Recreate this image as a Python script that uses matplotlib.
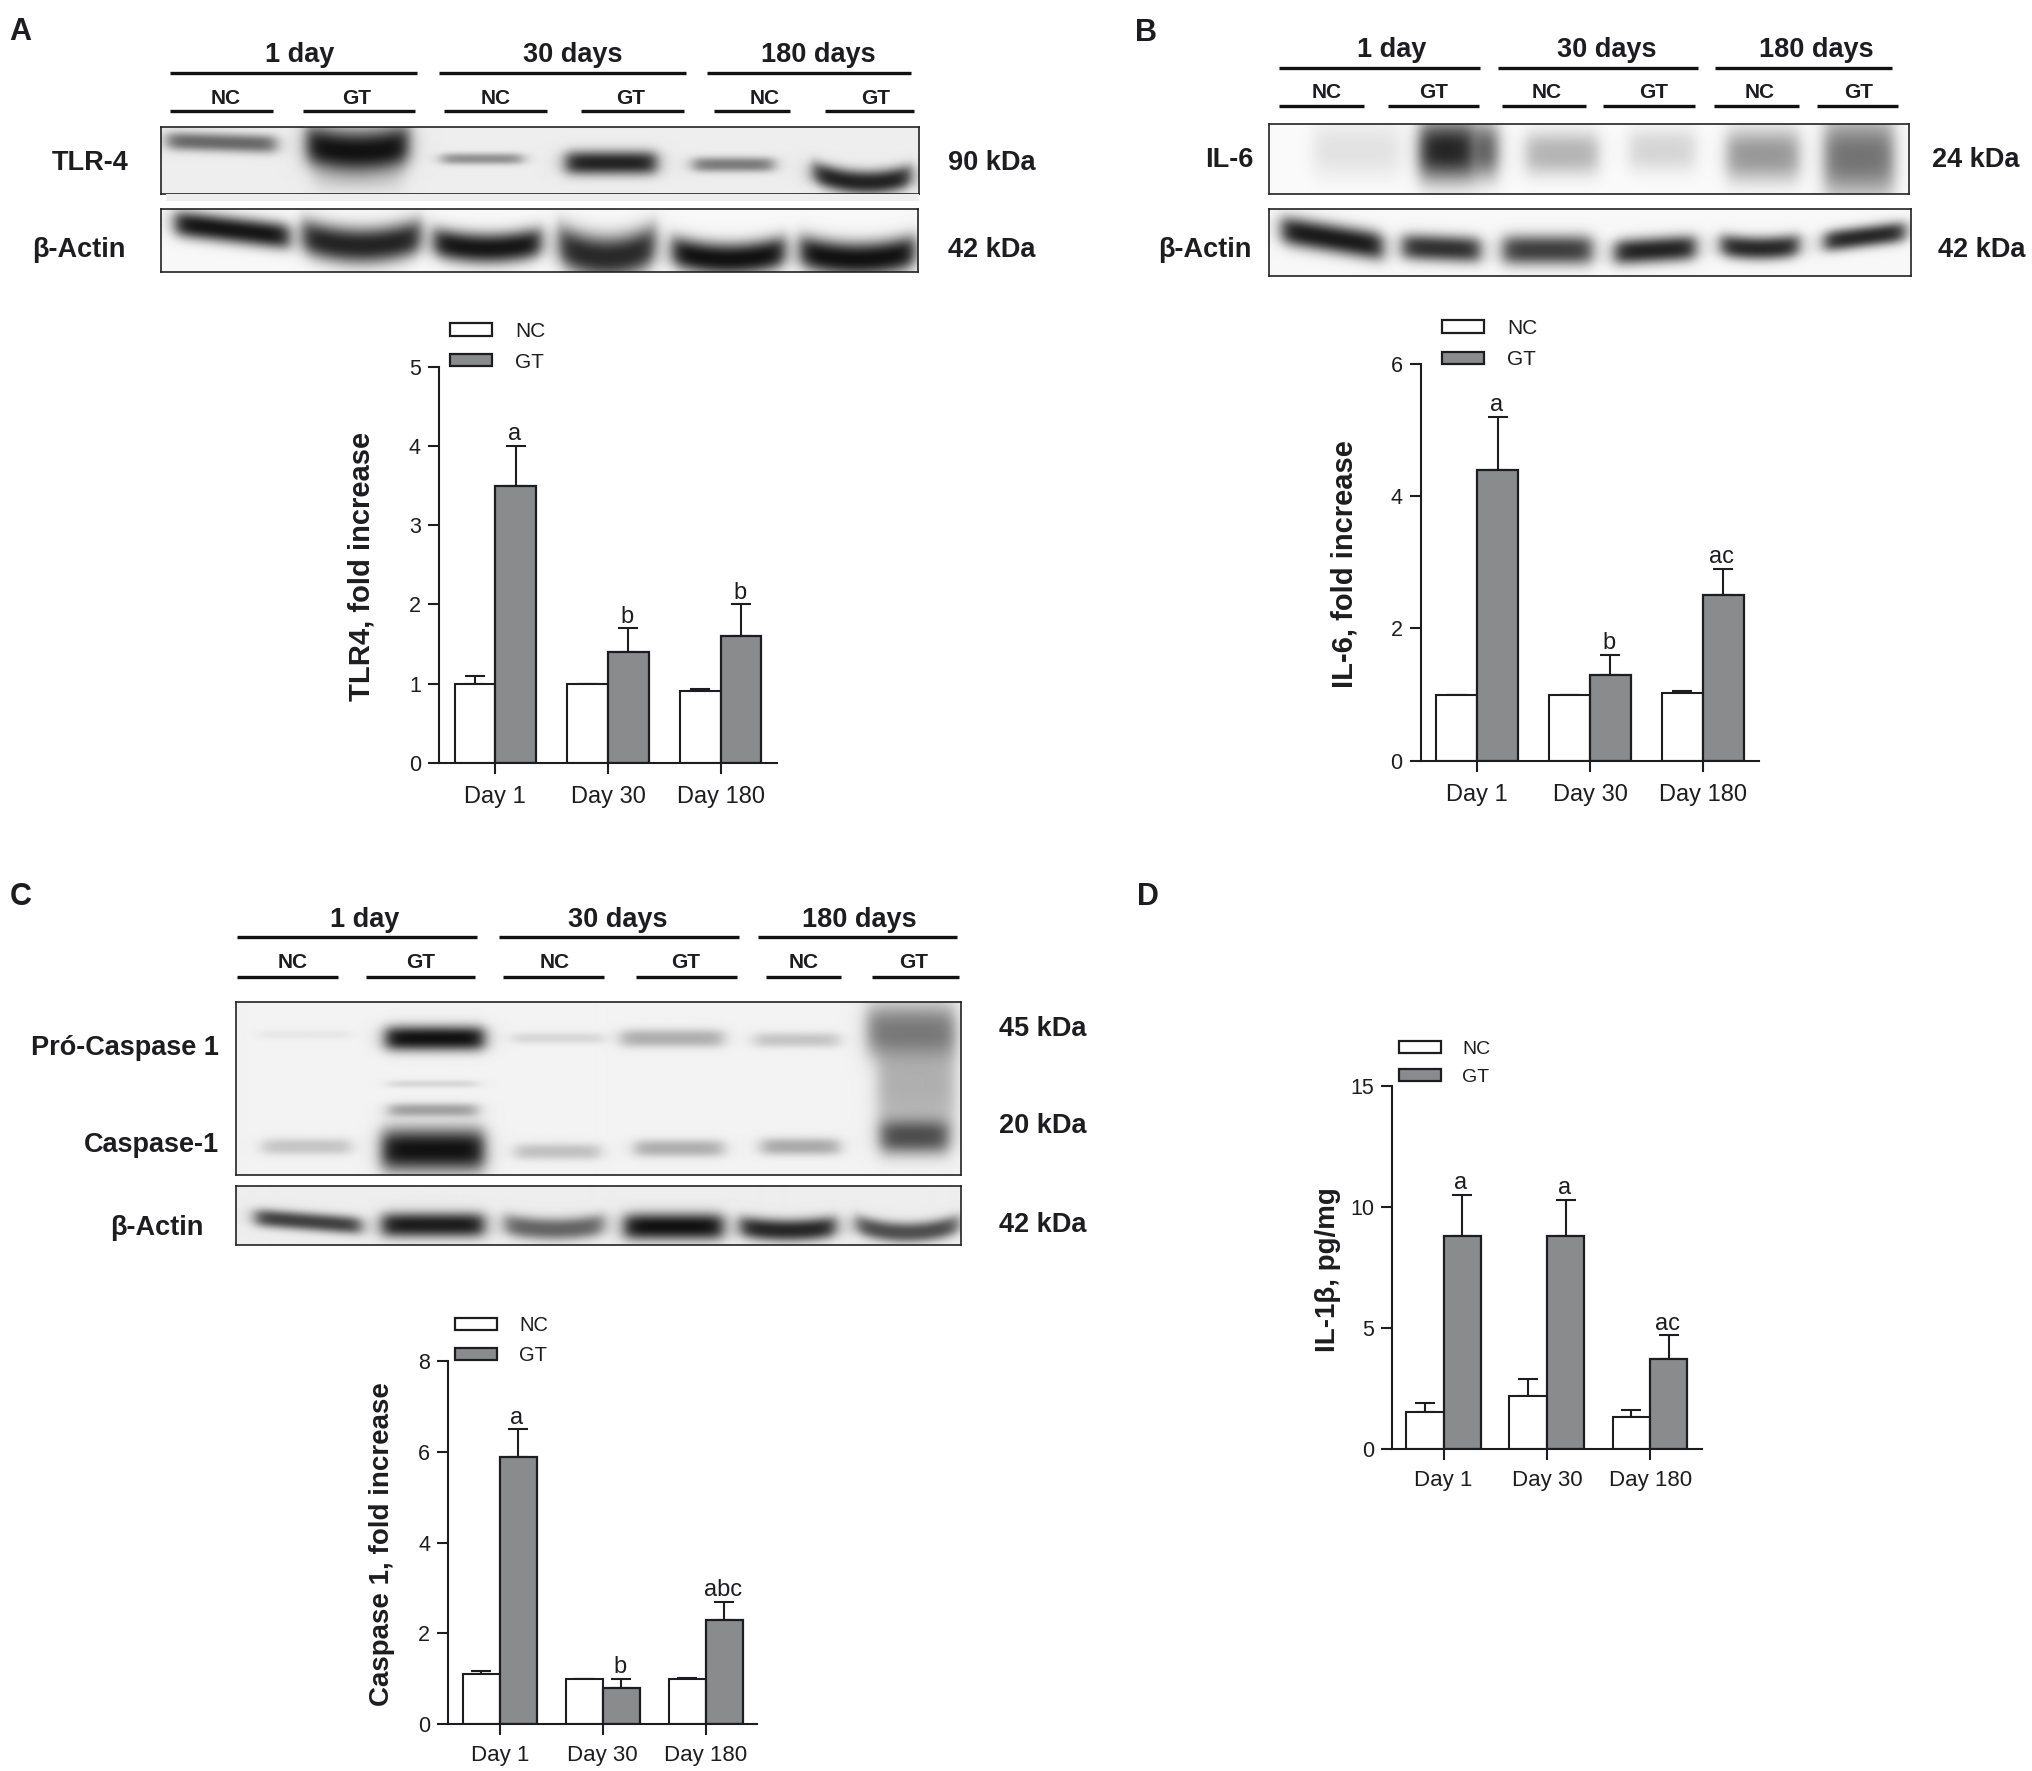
import numpy as np
import matplotlib
matplotlib.use("Agg")
import matplotlib.pyplot as plt
from matplotlib.lines import Line2D
from matplotlib.patches import Patch, Rectangle

W, H = 2033, 1771
plt.rcParams['font.family'] = ['Liberation Sans', 'DejaVu Sans']
INK = '#1d1d1f'
GREY = '#8a8b8d'

days = ['Day 1', 'Day 30', 'Day 180']

a_nc = [1.0, 1.0, 0.9];  a_nc_err = [0.1, 0.0, 0.03]
a_gt = [3.5, 1.4, 1.6];  a_gt_err = [0.5, 0.3, 0.4]
a_sig = ['a', 'b', 'b']

b_nc = [1.0, 1.0, 1.02]; b_nc_err = [0.0, 0.0, 0.03]
b_gt = [4.4, 1.3, 2.5];  b_gt_err = [0.8, 0.3, 0.4]
b_sig = ['a', 'b', 'ac']

c_nc = [1.1, 1.0, 1.0];  c_nc_err = [0.07, 0.0, 0.02]
c_gt = [5.9, 0.8, 2.3];  c_gt_err = [0.6, 0.2, 0.4]
c_sig = ['a', 'b', 'abc']

d_nc = [1.5, 2.2, 1.3];  d_nc_err = [0.4, 0.7, 0.3]
d_gt = [8.8, 8.8, 3.7];  d_gt_err = [1.7, 1.5, 1.0]
d_sig = ['a', 'a', 'ac']

fig = plt.figure(figsize=(W / 100, H / 100), dpi=100, facecolor='white')


def px_rect(x0, y0, x1, y1):
    return [x0 / W, 1 - y1 / H, (x1 - x0) / W, (y1 - y0) / H]


def label(x, y, s, size=19.5, ha='center', weight='bold'):
    fig.text(x / W, 1 - (y + 2) / H, s, fontsize=size, ha=ha, va='center',
             fontweight=weight, color=INK)


def rule(x0, x1, y, lw=2.4):
    fig.add_artist(Line2D([x0 / W, x1 / W], [1 - y / H, 1 - y / H],
                          color='#111111', lw=lw, solid_capstyle='butt'))


def blot(box, bands, fx, y_origin=0.0, bg=0.96, edge='#222222', x_origin=0.0):
    """Grey blot picture; each band is (x0, x1, y, thickness, darkness, tilt, smile)
    in the crop units used while reading the reference."""
    x0, y0, x1, y1 = box
    nx, ny = int(x1 - x0), int(y1 - y0)
    xx, yy = np.meshgrid(np.arange(nx) + x0 + .5, np.arange(ny) + y0 + .5)
    keep = np.ones_like(xx)
    for bx0, bx1, by, th, dark, tilt, smile in bands:
        bx0, bx1 = x_origin + bx0 / fx, x_origin + bx1 / fx
        by, th = y_origin + by / 3, 1.3 * th / 3
        u = (xx - bx0) / (bx1 - bx0)
        yc = by + tilt / 3 * (u - .5) - smile / 3 * (2 * np.clip(u, 0, 1) - 1) ** 2 + smile / 6
        soft = 4.5
        px = 1 / (1 + np.exp(-(xx - bx0) / soft)) * 1 / (1 + np.exp((xx - bx1) / soft))
        py = np.exp(-np.abs((yy - yc) / (th / 2)) ** 2.4)
        keep *= 1 - dark * px * py
    img = 0.07 + (bg - 0.07) * keep
    ax = fig.add_axes(px_rect(x0, y0, x1, y1))
    ax.imshow(img, cmap='gray', vmin=0, vmax=1, aspect='auto', interpolation='bilinear')
    ax.set_xticks([]); ax.set_yticks([])
    for s in ax.spines.values():
        s.set_color(edge); s.set_linewidth(1.2)


def chart(rect, nc, nc_err, gt, gt_err, sig, ymax, yticks, ylabel, lab_x, lab_y,
          ylab_size, leg_xy, leg_size, leg_pitch, tick_size, x_pad):
    x0, y0, x1, y1 = rect
    ax = fig.add_axes(px_rect(x0, y0, x1, y1))
    ax.patch.set_alpha(0)
    pos = np.arange(len(days))
    w = 0.362
    ax.errorbar(pos - w / 2, nc, yerr=[np.zeros(3), nc_err], fmt='none', ecolor=INK,
                elinewidth=1.5, capsize=7, capthick=1.5, zorder=1)
    ax.errorbar(pos + w / 2, gt, yerr=[np.zeros(3), gt_err], fmt='none', ecolor=INK,
                elinewidth=1.5, capsize=7, capthick=1.5, zorder=1)
    ax.bar(pos - w / 2, nc, w, color='white', edgecolor=INK, linewidth=1.5, zorder=2)
    ax.bar(pos + w / 2, gt, w, color=GREY, edgecolor=INK, linewidth=1.6, zorder=2)
    for p, v, e, s in zip(pos, gt, gt_err, sig):
        ax.annotate(s, xy=(p + w / 2, v + e), xytext=(-1, 4), textcoords='offset points',
                    ha='center', va='baseline', fontsize=17, color=INK)
    ax.set_xlim(-0.5, 2.5)
    ax.set_ylim(0, ymax)
    ax.set_yticks(yticks)
    ax.set_xticks(pos)
    ax.set_xticklabels(days)
    for s in ('top', 'right'):
        ax.spines[s].set_visible(False)
    for s in ('left', 'bottom'):
        ax.spines[s].set_linewidth(1.5)
        ax.spines[s].set_color(INK)
    ax.tick_params(axis='both', length=8, width=1.5, color=INK, labelcolor=INK)
    ax.tick_params(axis='y', labelsize=15.5, pad=5)
    ax.tick_params(axis='x', labelsize=tick_size, pad=x_pad)
    ax.set_ylabel(ylabel, fontsize=ylab_size, fontweight='bold', color=INK)
    ax.yaxis.set_label_coords((lab_x - x0) / (x1 - x0), (y1 - lab_y) / (y1 - y0))
    ax.yaxis.label.set_verticalalignment('center')
    handles = [Patch(facecolor='white', edgecolor=INK, linewidth=1.6, label='NC'),
               Patch(facecolor=GREY, edgecolor=INK, linewidth=1.6, label='GT')]
    em = leg_size * 100 / 72
    ax.legend(handles=handles, loc='upper left', frameon=False, fontsize=leg_size,
              bbox_to_anchor=(leg_xy[0] / W, 1 - (leg_xy[1] - 2) / H),
              bbox_transform=fig.transFigure, borderpad=0, borderaxespad=0,
              handlelength=42 / em, handleheight=0.55, handletextpad=1.1,
              labelspacing=(leg_pitch - 2.5 - em * 0.72) / em, labelcolor=INK)
    return ax


# ---------- Panel A ----------
label(20, 30, 'A', 22, 'center')
for x0, x1, s, cx in [(170, 416.6, '1 day', 300), (439, 686, '30 days', 573), (707, 911, '180 days', 818.5)]:
    rule(x0, x1, 72.7); label(cx, 53, s)
for x0, x1, s, cx in [(170, 273, 'NC', 226), (303, 415, 'GT', 357), (444, 547, 'NC', 496),
                      (581, 684.5, 'GT', 631), (714, 790, 'NC', 765), (824.5, 913.6, 'GT', 876)]:
    rule(x0, x1, 111.3); label(cx, 96, s, 15)
fig.add_artist(Rectangle((166 / W, 1 - 201 / H), 753 / W, 7 / H, transform=fig.transFigure,
                         facecolor='#eeeeee', edgecolor='none'))
blot((161, 127, 919, 194), [
    (250, 412, 430, 42, .6, 10, 0), (458, 610, 445, 100, 1.0, 0, 22), (660, 780, 478, 26, .42, 0, 0),
    (845, 980, 490, 55, .92, 0, 0), (1035, 1155, 495, 34, .52, 0, 0), (1215, 1360, 535, 55, .92, 10, 25),
    (470, 600, 540, 60, .1, 0, 0)], 1.493, bg=.93)
blot((161, 209, 918, 272), [
    (262, 432, 690, 62, .98, 40, 0), (452, 628, 722, 85, .92, 0, 30), (648, 808, 735, 72, .98, 0, 20),
    (835, 978, 752, 100, .9, 0, 40), (1004, 1172, 765, 76, 1, 0, 25), (1195, 1366, 765, 80, 1, 0, 25)], 1.493, bg=.97)
label(129, 161, 'TLR-4', ha='right')
label(126, 248, 'β-Actin', ha='right')
label(948, 161, '90 kDa', ha='left')
label(948, 248, '42 kDa', ha='left')
chart((439, 366.7, 777, 762.7), a_nc, a_nc_err, a_gt, a_gt_err, a_sig, 5, range(6),
      'TLR4, fold increase', 362, 566.7, 21, (450, 324), 15, 29, 17, 9)

# ---------- Panel B ----------
label(1146, 30.7, 'B', 22, 'center')
for x0, x1, s, cx in [(1279, 1479.6, '1 day', 1392), (1498, 1698, '30 days', 1606.5), (1715.5, 1892, '180 days', 1816)]:
    rule(x0, x1, 67.7); label(cx, 48.3, s)
for x0, x1, s, cx in [(1279, 1363.6, 'NC', 1327), (1387.7, 1478.5, 'GT', 1434), (1502, 1586, 'NC', 1547),
                      (1603, 1695, 'GT', 1653.5), (1714, 1799, 'NC', 1760), (1817, 1898, 'GT', 1859)]:
    rule(x0, x1, 106.3); label(cx, 90.7, s, 15)
blot((1269, 124, 1909, 194), [
    (320, 470, 450, 130, .1, 0, 0), (505, 600, 450, 140, .92, 0, 0), (600, 640, 450, 130, .7, 0, 0),
    (690, 815, 460, 100, .3, 0, 0), (870, 985, 450, 100, .16, 0, 0), (1040, 1165, 465, 120, .42, 0, 0),
    (1210, 1330, 470, 180, .58, 0, 0)], 1.742, x_origin=1130, bg=.98)
blot((1269, 209, 1911, 276), [
    (265, 440, 715, 68, .96, 50, 0), (475, 610, 745, 62, .86, 10, 0), (650, 805, 750, 70, .8, 0, 0),
    (845, 985, 750, 60, .92, -15, 0), (1030, 1165, 740, 55, .9, 0, 10), (1210, 1350, 710, 50, .9, -30, 0)],
     1.742, x_origin=1130, bg=.97)
label(1253.4, 157.7, 'IL-6', ha='right')
label(1251.7, 248.3, 'β-Actin', ha='right')
label(1932.5, 157.7, '24 kDa', ha='left')
label(1938, 248.3, '42 kDa', ha='left')
chart((1420.7, 364, 1759.3, 760.7), b_nc, b_nc_err, b_gt, b_gt_err, b_sig, 6, [0, 2, 4, 6],
      'IL-6, fold increase', 1345, 564, 21, (1442.3, 321), 15, 29.7, 17, 9)

# ---------- Panel C ----------
label(21, 895, 'C', 22, 'center')
for x0, x1, s, cx in [(237, 477, '1 day', 365), (499, 739, '30 days', 617.5), (758, 957, '180 days', 859)]:
    rule(x0, x1, 937.3); label(cx, 918, s)
for x0, x1, s, cx in [(237, 338, 'NC', 292.6), (366, 475, 'GT', 421), (503, 603.5, 'NC', 555),
                      (636.5, 737.5, 'GT', 685.6), (765.6, 840.7, 'NC', 804), (872, 958.6, 'GT', 914)]:
    rule(x0, x1, 977); label(cx, 961, s, 15)
blot((236.5, 1002, 961, 1175), [
    (550, 690, 475, 58, 1, 0, 0), (555, 680, 690, 32, .35, 0, 0), (545, 690, 810, 100, 1, 0, 0),
    (375, 500, 800, 38, .2, 0, 0), (735, 855, 815, 38, .22, 0, 0), (905, 1030, 805, 40, .3, 0, 0),
    (1085, 1195, 800, 40, .32, 0, 0), (885, 1030, 475, 42, .3, 0, 0), (730, 860, 475, 26, .12, 0, 0),
    (1075, 1195, 480, 35, .2, 0, 0), (1235, 1360, 450, 125, .5, 0, 0), (1250, 1360, 620, 230, .3, 0, 0),
    (1255, 1350, 770, 80, .7, 0, 0), (370, 500, 465, 20, .05, 0, 0), (555, 680, 612, 18, .12, 0, 0)],
     1.425, y_origin=880, bg=.95)
blot((236.5, 1186, 961, 1245), [
    (365, 515, 1025, 42, .78, 25, 0), (545, 690, 1035, 58, .95, 0, 0), (720, 860, 1040, 52, .62, 0, 15),
    (890, 1030, 1040, 62, 1, 0, 0), (1055, 1190, 1045, 52, .9, 0, 12), (1220, 1365, 1045, 48, .72, 0, 25)],
     1.425, y_origin=880, bg=.93)
label(219, 1045.7, 'Pró-Caspase 1', ha='right')
label(219, 1142.7, 'Caspase-1', ha='right')
label(203.5, 1225.7, 'β-Actin', ha='right')
label(998.6, 1026.7, '45 kDa', ha='left')
label(998.6, 1124, '20 kDa', ha='left')
label(998.6, 1223.3, '42 kDa', ha='left')
chart((448.3, 1361.3, 757.3, 1724), c_nc, c_nc_err, c_gt, c_gt_err, c_sig, 8, [0, 2, 4, 6, 8],
      'Caspase 1, fold increase', 382, 1544, 20, (455, 1318.3), 14.5, 27.5, 16, 7)

# ---------- Panel D ----------
label(1148, 895, 'D', 22, 'center')
chart((1392, 1086.3, 1701.7, 1448.7), d_nc, d_nc_err, d_gt, d_gt_err, d_sig, 15, [0, 5, 10, 15],
      'IL-1β, pg/mg', 1328, 1270, 20, (1399, 1042.7), 14, 27.6, 16, 7)

fig.savefig('out.png', dpi=100, facecolor='white')
